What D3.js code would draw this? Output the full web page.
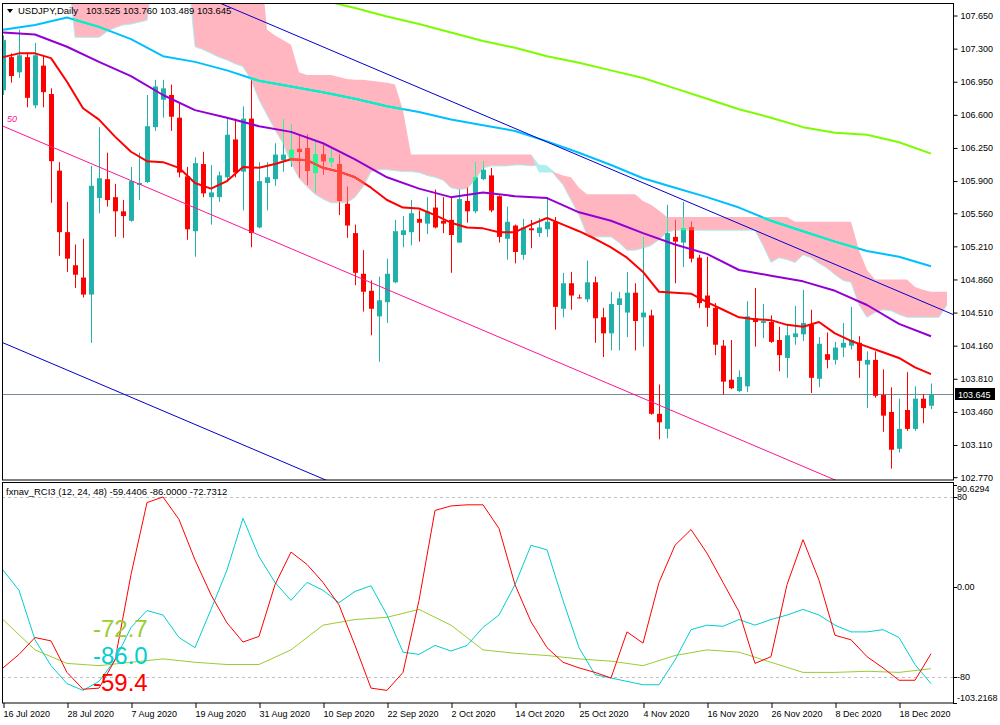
<!DOCTYPE html>
<html><head><meta charset="utf-8">
<script src="https://cdn.jsdelivr.net/npm/d3@7"></script>
<style>body{margin:0;background:#fff}svg{display:block}text{font-family:"Liberation Sans",Arial,sans-serif}</style>
</head><body><svg id="c" width="1000" height="725"></svg>
<script>
// ---------- categories ----------
const julDays=[16,17,20,21,22,23,24,27,28,29,30,31];
const augDays=[3,4,5,6,7,10,11,12,13,14,17,18,19,20,21,24,25,26,27,28,31];
const sepDays=[1,2,3,4,7,8,9,10,11,14,15,16,17,18,21,22,23,24,25,28,29,30];
const octDays=[1,2,5,6,7,8,9,12,13,14,15,16,19,20,21,22,23,25,26,27,28,29,30];
const novDays=[2,3,4,5,6,9,10,11,12,13,16,17,18,19,20,23,24,25,26,27,30];
const decDays=[1,2,3,4,7,8,9,10,11,14,15,16,17,18,21,22,23,24];
const dates=[].concat(julDays.map(d=>d+" Jul 2020"),augDays.map(d=>d+" Aug 2020"),sepDays.map(d=>d+" Sep 2020"),
  octDays.map(d=>d+" Oct 2020"),novDays.map(d=>d+" Nov 2020"),decDays.map(d=>d+" Dec 2020"));
const dateTicks=["16 Jul 2020","28 Jul 2020","7 Aug 2020","19 Aug 2020","31 Aug 2020","10 Sep 2020","22 Sep 2020","2 Oct 2020","14 Oct 2020","25 Oct 2020","4 Nov 2020","16 Nov 2020","26 Nov 2020","8 Dec 2020","18 Dec 2020"];
const priceTicks=[107.650,107.300,106.950,106.600,106.250,105.900,105.560,105.210,104.860,104.510,104.160,103.810,103.460,103.110,102.770];
const rciTicks=[90.6294,80,0,-80,-103.2168];
const rciTickLabels=["90.6294","80","0.00","-80","-103.2168"];

// ---------- OHLC ----------
const open=[106.86,107.21,107.05,107.21,106.70,107.12,106.82,106.01,105.36,105.01,
104.88,104.70,105.72,105.92,105.73,105.58,105.48,105.86,105.89,106.47,
106.76,106.81,106.57,105.95,105.37,106.08,105.73,105.73,105.94,106.34,
106.00,106.56,105.41,105.88,105.92,106.12,106.15,106.24,106.25,105.99,
106.18,106.10,106.08,105.66,105.35,104.92,104.74,104.47,104.62,104.83,
105.33,105.36,105.50,105.45,105.62,105.48,105.49,105.25,105.69,105.58,
105.92,105.96,105.74,105.29,105.43,105.12,105.40,105.35,105.39,105.47,
104.55,104.82,104.67,104.65,104.83,104.46,104.29,104.59,104.51,104.72,
104.46,104.48,103.44,103.28,105.31,105.25,105.41,105.09,104.69,104.56,
104.16,103.80,103.68,103.73,104.45,104.40,104.41,104.22,104.03,104.25,
104.28,104.38,103.81,104.07,104.01,104.14,104.16,104.19,103.96,104.01,
103.64,103.46,103.07,103.48,103.28,103.60,103.525];
const high=[107.44,107.25,107.50,107.26,107.36,107.23,106.88,106.10,105.68,105.23,
105.29,106.06,106.47,106.20,105.87,105.70,106.05,106.20,106.81,106.97,
106.97,106.92,106.73,106.05,106.15,106.21,106.07,106.00,106.56,106.56,
106.69,106.97,106.10,106.10,106.30,106.55,106.50,106.39,106.39,106.31,
106.28,106.26,106.18,105.84,105.44,105.17,104.85,104.89,105.08,105.49,
105.53,105.70,105.59,105.73,105.81,105.73,105.74,105.81,105.83,106.10,
106.11,106.04,105.75,105.63,105.44,105.50,105.49,105.51,105.73,105.52,
104.93,104.94,104.70,105.06,104.89,104.56,104.73,104.73,104.94,104.82,
105.31,104.54,103.75,105.65,105.49,105.68,105.47,105.12,105.10,104.61,
104.22,104.22,103.90,104.63,104.77,104.60,104.48,104.36,104.39,104.58,
104.75,104.54,104.25,104.30,104.20,104.40,104.57,104.26,104.10,104.10,
103.91,103.72,103.60,103.88,103.73,103.65,103.760];
const low=[106.81,106.94,106.99,106.68,106.67,106.68,105.67,105.11,104.94,104.77,
104.67,104.19,105.56,105.63,105.31,105.30,105.47,105.70,105.88,106.43,
106.57,106.43,105.94,105.28,105.10,105.73,105.44,105.68,105.89,105.94,
105.59,105.20,105.40,105.59,105.85,106.00,106.05,105.94,105.86,105.78,
105.97,106.05,105.54,105.30,104.80,104.52,104.27,103.99,104.40,104.82,
105.20,105.22,105.26,105.34,105.40,105.35,104.93,105.25,105.46,105.56,
105.91,105.57,105.25,105.07,105.03,105.07,105.19,105.31,105.31,104.33,
104.46,104.54,104.66,104.62,104.19,104.04,104.11,104.11,104.25,104.11,
104.15,103.43,103.17,103.18,104.82,104.99,105.04,104.56,104.36,104.06,
103.64,103.70,103.67,103.67,104.15,104.24,104.19,103.89,103.82,104.17,
104.21,103.66,103.72,103.92,103.96,104.04,104.12,103.82,103.50,103.61,
103.25,102.86,103.03,103.26,103.26,103.34,103.489];
const close=[107.39,107.01,107.23,106.78,107.23,106.84,106.11,105.36,105.08,104.91,
104.70,105.85,105.93,105.70,105.58,105.53,105.90,105.88,106.48,106.90,
106.88,106.58,105.99,105.39,106.09,105.77,105.78,105.96,106.39,105.99,
106.56,105.35,105.90,105.94,106.18,106.18,106.23,106.21,106.01,106.18,
106.11,106.14,105.69,105.43,104.93,104.73,104.55,104.64,104.92,105.37,
105.38,105.56,105.46,105.58,105.41,105.45,105.33,105.71,105.58,105.94,
106.02,105.59,105.31,105.47,105.15,105.41,105.38,105.41,105.47,104.57,
104.82,104.69,104.66,104.83,104.45,104.29,104.60,104.66,104.72,104.42,
104.51,103.44,103.35,105.35,105.26,105.40,105.08,104.61,104.56,104.17,
103.78,103.71,103.83,104.47,104.41,104.42,104.20,104.06,104.27,104.29,
104.40,103.82,104.18,104.01,104.14,104.19,104.22,104.00,104.01,103.63,
103.42,103.06,103.28,103.28,103.60,103.50,103.645];
const lastPrice=103.645;

// ---------- moving averages (sampled at bar indices) ----------
const maRedIdx=d3.range(0,117,2);
const maRed=[107.21,107.25,107.25,107.20,106.95,106.67,106.55,106.37,106.21,106.11,
106.10,106.04,105.88,105.82,105.90,106.05,106.04,106.08,106.13,106.12,
106.04,106.00,105.94,105.83,105.70,105.62,105.61,105.54,105.46,105.41,
105.40,105.36,105.36,105.44,105.51,105.44,105.37,105.29,105.20,105.09,
104.94,104.73,104.72,104.71,104.62,104.54,104.46,104.44,104.43,104.38,
104.36,104.41,104.29,104.21,104.15,104.09,104.03,103.93,103.86];
const maPurpleIdx=d3.range(0,117,4);
const maPurple=[107.47,107.45,107.32,107.16,107.01,106.81,106.65,106.57,106.48,106.42,
106.30,106.13,105.94,105.82,105.73,105.78,105.74,105.72,105.57,105.48,
105.35,105.23,105.13,104.96,104.90,104.84,104.74,104.59,104.39,104.26];
const maBlueIdx=d3.range(0,117,4);
const maBlue=[107.50,107.55,107.63,107.53,107.40,107.22,107.16,107.07,106.96,106.90,
106.84,106.77,106.69,106.63,106.55,106.49,106.43,106.32,106.20,106.07,
105.93,105.83,105.73,105.62,105.48,105.37,105.26,105.16,105.10,105.00];
const maGreenIdx=d3.range(36,117,4);
const maGreen=[107.90,107.81,107.73,107.64,107.56,107.47,107.38,107.31,107.22,107.15,107.07,
106.99,106.88,106.77,106.66,106.57,106.47,106.41,106.39,106.31,106.19];

// ---------- ichimoku cloud spans ----------
const cloudIdx=d3.range(0,119);
const spanA=[108.40,108.40,108.40,108.40,108.40,108.40,108.40,108.40,108.40,108.40,
108.40,108.40,108.40,108.40,108.40,108.40,108.40,108.40,108.40,108.40,
108.40,108.40,108.40,108.40,108.40,108.40,108.40,108.40,108.40,108.40,
108.40,108.40,108.40,107.50,107.44,107.39,107.34,107.05,107.02,107.02,
107.02,107.02,107.00,106.98,106.97,106.97,106.96,106.95,106.94,106.92,
106.65,106.18,106.18,106.18,106.18,106.18,106.18,106.18,106.18,106.18,
106.18,106.18,106.18,106.18,106.18,106.18,106.18,105.99,105.99,105.99,
105.96,105.94,105.83,105.76,105.76,105.76,105.76,105.76,105.76,105.76,
105.69,105.65,105.59,105.52,105.52,105.52,105.52,105.52,105.52,105.52,
105.52,105.52,105.52,105.52,105.52,105.52,105.52,105.52,105.52,105.47,
105.47,105.47,105.47,105.47,105.47,105.47,105.47,105.17,104.96,104.86,
104.86,104.86,104.86,104.86,104.78,104.75,104.73,104.73,104.73];
const spanB=[108.20,108.20,108.20,108.20,108.20,108.20,108.20,108.20,108.20,107.42,
107.42,107.42,107.42,107.48,107.52,107.55,107.56,107.58,107.60,108.20,
108.20,108.20,108.20,108.20,107.32,107.29,107.25,107.21,107.18,107.14,
107.11,106.97,106.76,106.60,106.44,106.30,106.09,105.93,105.84,105.76,
105.71,105.67,105.67,105.67,105.73,105.84,106.00,106.02,106.02,106.01,
106.00,106.00,105.99,105.96,105.94,105.91,105.83,105.81,105.82,105.91,
106.04,106.06,106.06,106.06,106.07,106.07,106.06,106.07,106.06,105.96,
105.86,105.70,105.54,105.33,105.31,105.31,105.31,105.25,105.17,105.17,
105.19,105.22,105.28,105.36,105.38,105.38,105.38,105.38,105.38,105.38,
105.38,105.38,105.38,105.38,105.38,105.22,105.04,105.09,105.07,105.04,
105.12,105.09,105.03,104.98,104.91,104.85,104.83,104.59,104.46,104.51,
104.54,104.53,104.49,104.46,104.46,104.46,104.46,104.46,104.59];

// ---------- regression channel (bar index -> price) ----------
const chanIdx=[-0.125,118.75];
const chanMid=[106.485,102.21];
const chanUpper=[108.76,104.49];
const chanLower=[104.195,99.92];

// ---------- RCI (12, 24, 48) ----------
const rciShortIdx=d3.range(0,117,2);
const rci12=[-72,-60,-45,-48,-76,-91,-90,-65,11,75,
80,60,24,-7,-32,-49,-44,2,31,20,
4,-16,-52,-90,-92,-76,-12,68,72,73,
73,52,2,-31,-54,-67,-72,-76,-81,-40,
-50,4,37,51,30,4,-22,-68,-62,2,
42,6,-43,-47,-62,-72,-83,-83,-59.44];
const rci24=[15,-3,-47,-70,-86,-92,-84,-65,-36,-21,
-25,-45,-54,-20,15,61,27,4,-12,4,
-3,-14,-4,1,-25,-58,-60,-52,-57,-52,
-36,-25,2,37,33,-12,-54,-78,-81,-84,
-87,-87,-65,-38,-34,-35,-29,-34,-29,-25,
-20,-25,-34,-40,-40,-38,-45,-69,-86];
const rciLongIdx=d3.range(0,117,4);
const rci48=[-29,-56,-68,-70,-67,-64,-67,-69,-69,-56,-34,-29,-27,-20,-34,-56,-59,-61,-64,-66,-70,-61,-56,-58,-67,-76,-76,-75,-76,-72.73];

// ---------- drawing ----------
const svg=d3.select("#c");
const L=2,R=953,MT=3,MB=480,ST=482.5,SB=703;
const x=d3.scaleLinear().domain([0,118.75]).range([3,953]);
const y=d3.scaleLinear().domain([102.740,107.793]).range([480,2]);
const ys=d3.scaleLinear().domain([-103.2168,90.6294]).range([703,485]);

const cloud=cloudIdx.map((d,k)=>({i:d,a:spanA[k],b:spanB[k]}));
const pinkArea=d3.area().x(d=>x(d.i)).y0(d=>y(d.b)).y1(d=>y(Math.max(d.a,d.b)));

const defs=svg.append("defs");
defs.append("clipPath").attr("id","cm").append("rect").attr("x",L).attr("y",MT).attr("width",R-L).attr("height",MB-MT);
defs.append("clipPath").attr("id","cs").append("rect").attr("x",L).attr("y",ST).attr("width",R-L).attr("height",SB-ST);
defs.append("clipPath").attr("id","cc").append("path").attr("d",pinkArea(cloud));

const gm=svg.append("g").attr("clip-path","url(#cm)");
gm.append("path").datum(cloud).attr("fill","#ffb6c1").attr("d",pinkArea);
gm.append("path").datum(cloud).attr("fill","#afeeee")
  .attr("d",d3.area().x(d=>x(d.i)).y0(d=>y(d.a)).y1(d=>y(Math.max(d.a,d.b))));
gm.append("path").datum(cloud).attr("fill","none").attr("stroke","#afeeee").attr("stroke-width",1)
  .attr("d",d3.line().x(d=>x(d.i)).y(d=>y(d.b)));

// current price line
gm.append("line").attr("x1",L).attr("x2",R).attr("y1",Math.round(y(lastPrice))+0.5).attr("y2",Math.round(y(lastPrice))+0.5)
  .attr("stroke","#778899").attr("stroke-width",1);

const candles=dates.map((d,i)=>({i,o:open[i],h:high[i],l:low[i],c:close[i]}));
function drawCandles(g,bull,bear){
  const cg=g.append("g").selectAll("g").data(candles).join("g");
  cg.append("line").attr("x1",d=>Math.round(x(d.i))+0.5).attr("x2",d=>Math.round(x(d.i))+0.5)
    .attr("y1",d=>y(d.h)).attr("y2",d=>y(d.l)).attr("stroke",d=>d.c>=d.o?bull:bear).attr("stroke-width",1);
  cg.append("rect").attr("x",d=>Math.round(x(d.i))-2).attr("width",5)
    .attr("y",d=>y(Math.max(d.o,d.c))).attr("height",d=>Math.max(1,Math.abs(y(d.o)-y(d.c))))
    .attr("fill",d=>d.c>=d.o?bull:bear);
}
function drawLine(g,idx,vals,sc,color,w){
  g.append("path").datum(idx.map((d,k)=>[d,vals[k]])).attr("fill","none").attr("stroke",color).attr("stroke-width",w)
   .attr("stroke-linejoin","round").attr("d",d3.line().x(d=>x(d[0])).y(d=>sc(d[1])));
}
drawCandles(gm,"#20b2aa","#ff0000");
drawLine(gm,maGreenIdx,maGreen,y,"#7cfc00",2);
drawLine(gm,maBlueIdx,maBlue,y,"#00bfff",2);
drawLine(gm,maRedIdx,maRed,y,"#ff0000",2);
// inside the cloud the marks drawn below it show in inverted (xor) tones
const gx=gm.append("g").attr("clip-path","url(#cc)");
drawCandles(gx,"#20fb94","#ff493e");
drawLine(gx,maBlueIdx,maBlue,y,"#00f6c1",2);
drawLine(gx,maRedIdx,maRed,y,"#ff493e",2);

drawLine(gm,maPurpleIdx,maPurple,y,"#9400d3",2);
drawLine(gm,chanIdx,chanUpper,y,"#0000cd",1);
drawLine(gm,chanIdx,chanLower,y,"#0000cd",1);
drawLine(gm,chanIdx,chanMid,y,"#ff1493",1);
gm.append("text").attr("x",7).attr("y",y(chanMid[0])-4).attr("font-size",9).attr("font-style","italic").attr("fill","#ff1493").text("50");

// subwindow
const gs=svg.append("g").attr("clip-path","url(#cs)");
[80,-80].forEach(v=>gs.append("line").attr("x1",L).attr("x2",R).attr("y1",Math.round(ys(v))+0.5).attr("y2",Math.round(ys(v))+0.5)
  .attr("stroke","#c0c0c0").attr("stroke-dasharray","3,3"));
drawLine(gs,rciLongIdx,rci48,ys,"#9acd32",1);
drawLine(gs,rciShortIdx,rci24,ys,"#00ced1",1);
drawLine(gs,rciShortIdx,rci12,ys,"#ff0000",1);

const bigVals=[{t:rci48[rci48.length-1].toFixed(1),c:"#9acd32",b:637},{t:rci24[rci24.length-1].toFixed(1),c:"#00ced1",b:664},{t:rci12[rci12.length-1].toFixed(1),c:"#ff0000",b:691}];
bigVals.forEach(d=>svg.append("text").attr("x",93).attr("y",d.b).attr("font-size",24).attr("fill",d.c).text(d.t));

// frames
svg.append("rect").attr("x",L+0.5).attr("y",MT+0.5).attr("width",R-L).attr("height",MB-MT-0.5).attr("fill","none").attr("stroke","#000");
svg.append("rect").attr("x",L+0.5).attr("y",ST).attr("width",R-L).attr("height",SB-ST).attr("fill","none").attr("stroke","#000");

// price axis
const ay=svg.append("g").attr("transform",`translate(${R+0.5},0)`)
  .call(d3.axisRight(y).tickValues(priceTicks).tickSize(4).tickPadding(3).tickFormat(d3.format(".3f")));
ay.select(".domain").remove();
ay.selectAll("text").attr("font-size",9).attr("font-family","Liberation Sans, Arial").attr("fill","#000");
ay.selectAll("line").attr("stroke","#000");
const lp=Math.round(y(lastPrice));
svg.append("rect").attr("x",955).attr("y",lp-6).attr("width",40).attr("height",12).attr("fill","#000");
svg.append("text").attr("x",958).attr("y",lp+3.5).attr("font-size",9).attr("fill","#fff").text(lastPrice.toFixed(3));

// rci axis
rciTicks.forEach((v,k)=>{
  const ty=ys(v);
  svg.append("line").attr("x1",R).attr("x2",R+4).attr("y1",Math.round(ty)+0.5).attr("y2",Math.round(ty)+0.5).attr("stroke","#000");
  const off=k===0?4:(k===rciTicks.length-1?-5:0);
  svg.append("text").attr("x",957).attr("y",ty+off+3.3).attr("font-size",9).attr("fill","#000").text(rciTickLabels[k]);
});

// date axis
const tickIdx=dateTicks.map(t=>dates.indexOf(t));
const ax=svg.append("g").attr("transform",`translate(0,${SB})`)
  .call(d3.axisBottom(x).tickValues(tickIdx).tickSize(5).tickPadding(3).tickFormat(i=>dates[i]));
ax.select(".domain").remove();
ax.selectAll("line").attr("stroke","#000").attr("transform","translate(0.5,0)");
ax.selectAll("text").attr("font-size",9).attr("font-family","Liberation Sans, Arial").attr("fill","#000").attr("text-anchor","start");

// header
svg.append("path").attr("d","M7,9 L13,9 L10,13 Z").attr("fill","#000");
svg.append("text").attr("x",18).attr("y",14).attr("font-size",9.5).attr("fill","#000").text("USDJPY,Daily");
svg.append("text").attr("x",86).attr("y",14).attr("font-size",9.5).attr("fill","#000")
  .text([open[116],high[116],low[116],close[116]].map(v=>v.toFixed(3)).join(" "));
svg.append("text").attr("x",6).attr("y",495).attr("font-size",9.5).attr("fill","#000")
  .text("fxnav_RCI3 (12, 24, 48) -59.4406 -86.0000 -72.7312");
</script></body></html>
